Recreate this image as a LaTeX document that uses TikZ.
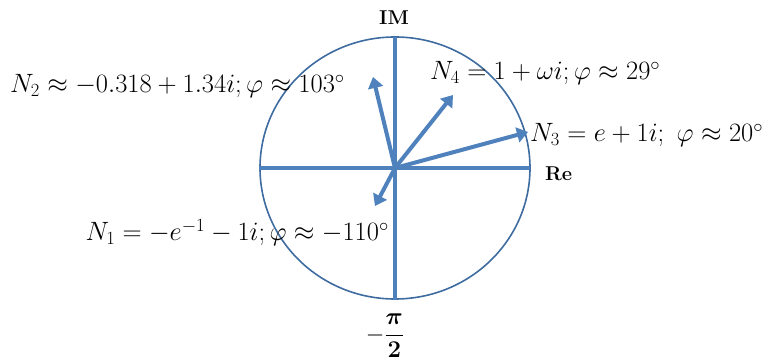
\RequirePackage{fix-cm}
\documentclass[tikz,border=0pt]{standalone}
\usepackage{amsmath}
\usetikzlibrary{arrows.meta}
\definecolor{axisblue}{RGB}{79,129,189}
\definecolor{circblue}{RGB}{62,108,160}
\begin{document}
\begin{tikzpicture}[x=1pt,y=-1pt,
  axisline/.style={draw=axisblue, line width=4pt},
  vec/.style={draw=axisblue, line width=4pt, -{Triangle[length=11pt,width=15pt]}},
  lbl/.style={font=\fontsize{26.5}{30}\selectfont, inner sep=0pt},
  axlbl/.style={font=\fontsize{20}{23}\selectfont\bfseries, inner sep=0pt}]
\useasboundingbox (0,0) rectangle (772,363);
\coordinate (O) at (395,168);
\draw[circblue, line width=1.6pt] (O) ellipse [x radius=135pt, y radius=131pt];
\coordinate (top) at (395,37);
\coordinate (bot) at (395,300);
\coordinate (lft) at (259,168);
\coordinate (rgt) at (530,168);
\draw[axisline] (lft) -- (rgt);
\draw[axisline] (top) -- (bot);
\coordinate (n1) at (375,206);
\coordinate (n2) at (373,77);
\coordinate (n3) at (528,132);
\coordinate (n4) at (453,95);
\draw[vec] (O) -- (n1);
\draw[vec] (O) -- (n2);
\draw[vec] (O) -- (n3);
\draw[vec] (O) -- (n4);
\node[axlbl, anchor=base] (im) at (394,25) {IM};
\node[axlbl, anchor=base west] (re) at (545,181) {Re};
\node[lbl, anchor=base west] (l2) at (10,93) {$N_2\approx -0.318+1.34i;\varphi\approx 103^\circ$};
\node[lbl, anchor=base west] (l4) at (430,80) {$N_4=1+\omega i;\varphi\approx 29^\circ$};
\node[lbl, anchor=base west] (l3) at (530,142) {$N_3=e+1i;\ \varphi\approx 20^\circ$};
\node[lbl, anchor=base east] (l1) at (389,241) {$N_1=-e^{-1}-1i;\varphi\approx -110^\circ$};
\node[font=\fontsize{24}{28}\selectfont, inner sep=0pt, anchor=center] (mhalf) at (385,336) {$\displaystyle -\frac{\boldsymbol{\pi}}{\mathbf{2}}$};
\end{tikzpicture}
\end{document}
